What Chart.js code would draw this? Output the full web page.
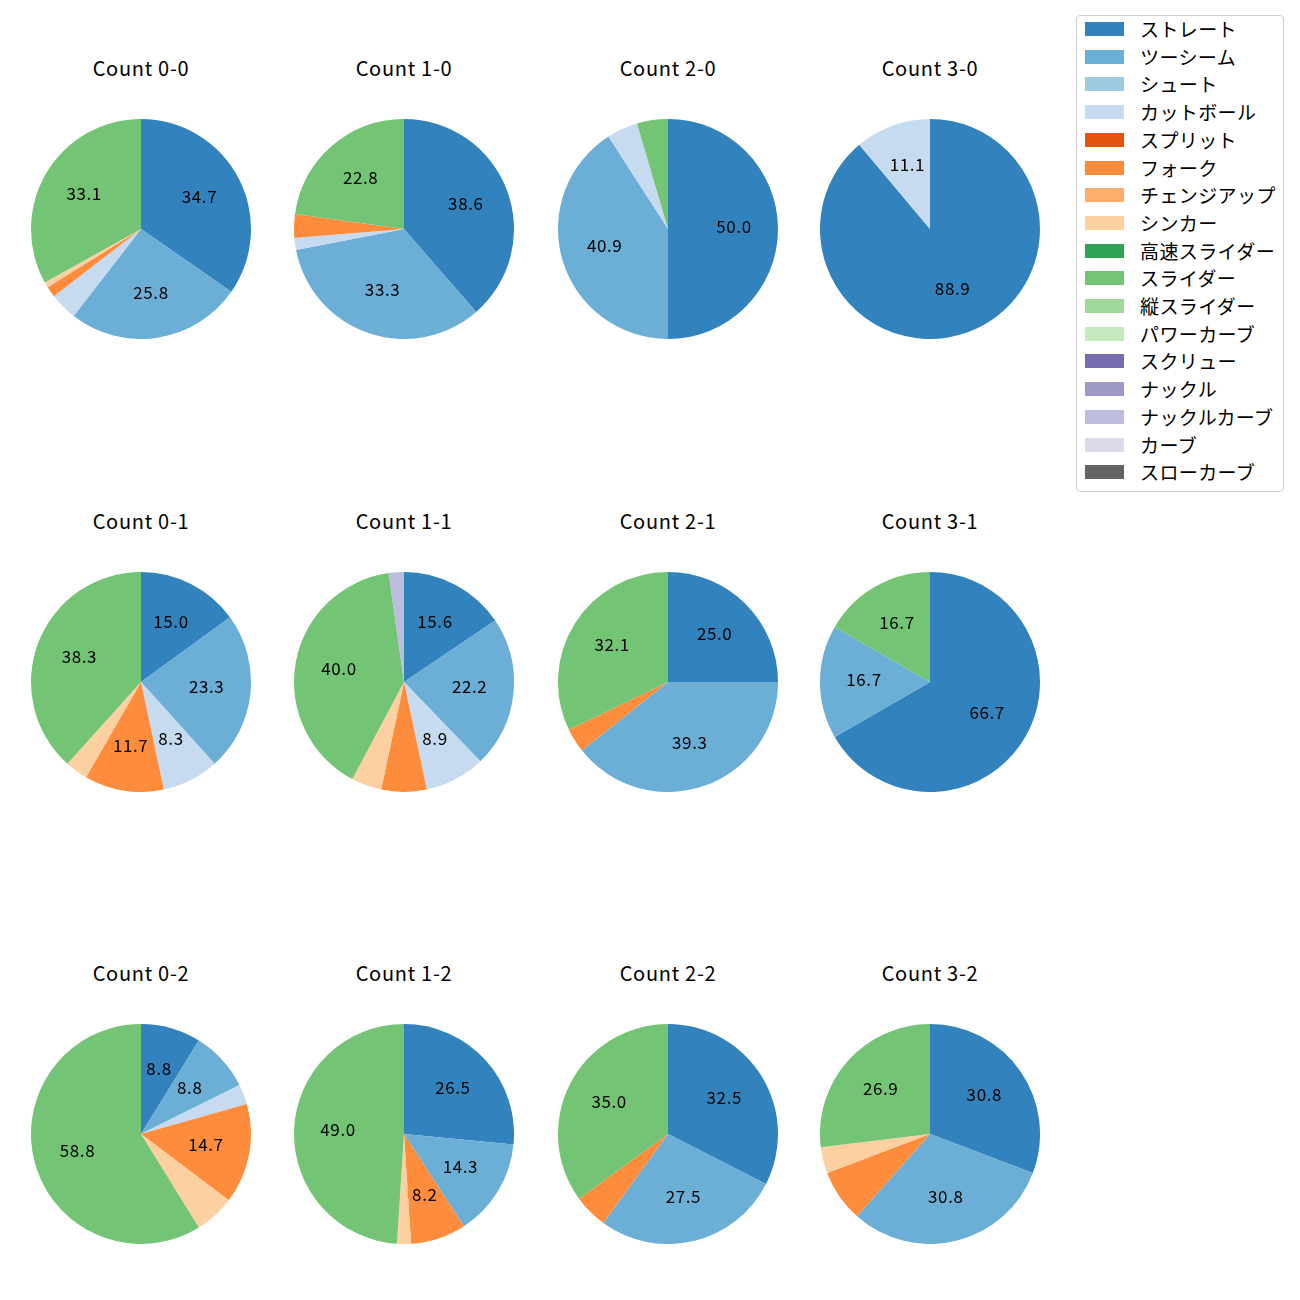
<!DOCTYPE html>
<html>
<head>
<meta charset="utf-8">
<script src="https://cdn.jsdelivr.net/npm/chart.js@4/dist/chart.umd.min.js"></script>
<style>
  body { margin: 0; background: #fff; font-family: "Noto Sans CJK JP", "Noto Sans", sans-serif; }
  #page { position: relative; width: 1300px; height: 1300px; }
  .pie { position: absolute; }
  .title { position: absolute; width: 240px; text-align: center; font-size: 20px; letter-spacing: 0.7px; color: #000; line-height: 24px; }
  #legend { position: absolute; left: 1076px; top: 15px; width: 208px; height: 477px;
    border: 1px solid #ccc; border-radius: 4px; box-sizing: border-box; }
  .item { position: absolute; left: 8px; height: 20px; font-size: 19px; letter-spacing: 0.4px; line-height: 20px; color: #000; }
  .swatch { position: absolute; left: 0; top: 3px; width: 39px; height: 14px; }
  .item span { position: absolute; left: 55px; white-space: nowrap; }
</style>
</head>
<body>
<div id="page"><div id="legend"></div></div>
<script>
  const pitchTypes = ['ストレート', 'ツーシーム', 'シュート', 'カットボール', 'スプリット', 'フォーク',
    'チェンジアップ', 'シンカー', '高速スライダー', 'スライダー', '縦スライダー', 'パワーカーブ',
    'スクリュー', 'ナックル', 'ナックルカーブ', 'カーブ', 'スローカーブ'];
  const pitchColors = ['#3182bd', '#6baed6', '#9ecae1', '#c6dbef', '#e6550d', '#fd8d3c',
    '#fdae6b', '#fdd0a2', '#31a354', '#74c476', '#a1d99b', '#c7e9c0',
    '#756bb1', '#9e9ac8', '#bcbddc', '#dadaeb', '#636363'];
  const countLabels = ['0-0', '1-0', '2-0', '3-0', '0-1', '1-1', '2-1', '3-1', '0-2', '1-2', '2-2', '3-2'];

  // pitches per type (same order as pitchTypes)
  const c00 = [43, 32, 0, 5, 0, 2, 0, 1, 0, 41, 0, 0, 0, 0, 0, 0, 0];
  const c10 = [22, 19, 0, 1, 0, 2, 0, 0, 0, 13, 0, 0, 0, 0, 0, 0, 0];
  const c20 = [11, 9, 0, 1, 0, 0, 0, 0, 0, 1, 0, 0, 0, 0, 0, 0, 0];
  const c30 = [8, 0, 0, 1, 0, 0, 0, 0, 0, 0, 0, 0, 0, 0, 0, 0, 0];
  const c01 = [9, 14, 0, 5, 0, 7, 0, 2, 0, 23, 0, 0, 0, 0, 0, 0, 0];
  const c11 = [7, 10, 0, 4, 0, 3, 0, 2, 0, 18, 0, 0, 0, 0, 1, 0, 0];
  const c21 = [7, 11, 0, 0, 0, 1, 0, 0, 0, 9, 0, 0, 0, 0, 0, 0, 0];
  const c31 = [4, 1, 0, 0, 0, 0, 0, 0, 0, 1, 0, 0, 0, 0, 0, 0, 0];
  const c02 = [3, 3, 0, 1, 0, 5, 0, 2, 0, 20, 0, 0, 0, 0, 0, 0, 0];
  const c12 = [13, 7, 0, 0, 0, 4, 0, 1, 0, 24, 0, 0, 0, 0, 0, 0, 0];
  const c22 = [13, 11, 0, 0, 0, 2, 0, 0, 0, 14, 0, 0, 0, 0, 0, 0, 0];
  const c32 = [8, 8, 0, 0, 0, 2, 0, 1, 0, 7, 0, 0, 0, 0, 0, 0, 0];
  const countData = [c00, c10, c20, c30, c01, c11, c21, c31, c02, c12, c22, c32];

  const colX = [141, 404, 668, 930];
  const rowY = [229, 682, 1134];
  const R = 110;
  const page = document.getElementById('page');

  // percentage labels inside slices (like autopct), hide small ones
  const pctLabels = {
    id: 'pctLabels',
    afterDatasetsDraw(chart) {
      const ctx = chart.ctx;
      const data = chart.data.datasets[0].data;
      const total = data.reduce((a, b) => a + b, 0);
      ctx.save();
      ctx.font = '17px "Noto Sans CJK JP", sans-serif';
      ctx.letterSpacing = '0.6px';
      ctx.fillStyle = '#000';
      ctx.textAlign = 'center';
      ctx.textBaseline = 'middle';
      chart.getDatasetMeta(0).data.forEach((arc, i) => {
        const pct = data[i] / total * 100;
        if (pct < 8) return;
        const mid = (arc.startAngle + arc.endAngle) / 2;
        const r = arc.outerRadius * 0.6;
        ctx.fillText(pct.toFixed(1), arc.x + Math.cos(mid) * r, arc.y + Math.sin(mid) * r - 2);
      });
      ctx.restore();
    }
  };

  countData.forEach((vals, k) => {
    const cx = colX[k % 4], cy = rowY[Math.floor(k / 4)];
    const title = document.createElement('div');
    title.className = 'title';
    title.style.left = (cx - 120) + 'px';
    title.style.top = (cy - 173) + 'px';
    title.textContent = 'Count ' + countLabels[k];
    page.appendChild(title);

    const cv = document.createElement('canvas');
    cv.className = 'pie';
    cv.width = 2 * R; cv.height = 2 * R;
    cv.style.left = (cx - R) + 'px';
    cv.style.top = (cy - R) + 'px';
    page.appendChild(cv);

    new Chart(cv.getContext('2d'), {
      type: 'pie',
      data: {
        labels: pitchTypes,
        datasets: [{ data: vals, backgroundColor: pitchColors, borderWidth: 0 }]
      },
      options: {
        responsive: false,
        animation: false,
        layout: { padding: 0 },
        plugins: { legend: { display: false }, tooltip: { enabled: false } }
      },
      plugins: [pctLabels]
    });
  });

  // legend
  const legend = document.getElementById('legend');
  pitchTypes.forEach((name, i) => {
    const it = document.createElement('div');
    it.className = 'item';
    it.style.top = (3 + i * 27.7) + 'px';
    it.innerHTML = '<div class="swatch" style="background:' + pitchColors[i] + '"></div><span>' + name + '</span>';
    legend.appendChild(it);
  });
</script>
</body>
</html>
